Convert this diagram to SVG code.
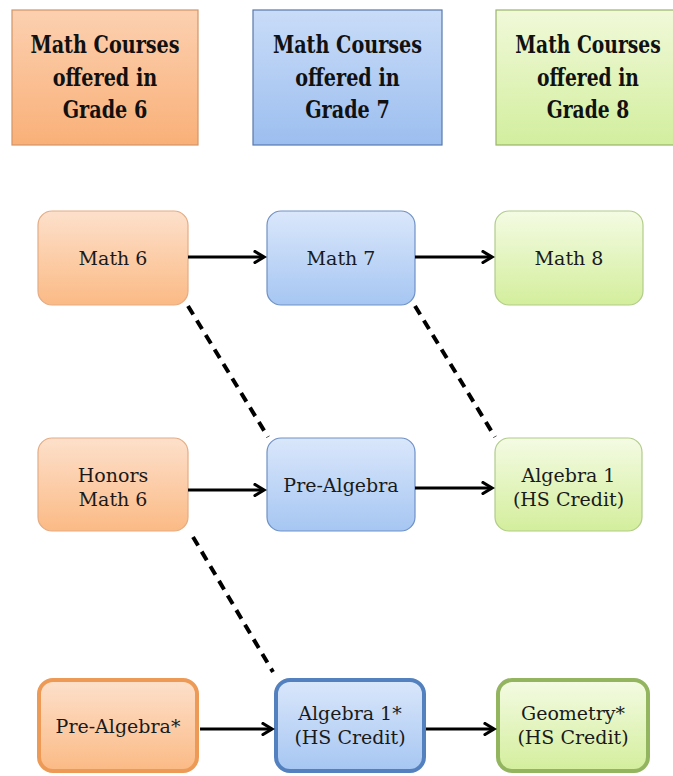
<svg xmlns="http://www.w3.org/2000/svg" width="673" height="776" viewBox="0 0 673 776">
<defs>
<linearGradient id="gO" x1="0" y1="0" x2="0" y2="1"><stop offset="0" stop-color="#fde0cb"/><stop offset="1" stop-color="#fbba85"/></linearGradient>
<linearGradient id="gB" x1="0" y1="0" x2="0" y2="1"><stop offset="0" stop-color="#dae7fb"/><stop offset="1" stop-color="#a6c6f2"/></linearGradient>
<linearGradient id="gG" x1="0" y1="0" x2="0" y2="1"><stop offset="0" stop-color="#f4fbe3"/><stop offset="1" stop-color="#d3ee9c"/></linearGradient>
<linearGradient id="hO" x1="0" y1="0" x2="0" y2="1"><stop offset="0" stop-color="#fcd0b0"/><stop offset="1" stop-color="#f9b078"/></linearGradient>
<linearGradient id="hB" x1="0" y1="0" x2="0" y2="1"><stop offset="0" stop-color="#c9dcf8"/><stop offset="1" stop-color="#9cbeef"/></linearGradient>
<linearGradient id="hG" x1="0" y1="0" x2="0" y2="1"><stop offset="0" stop-color="#f1f9d9"/><stop offset="1" stop-color="#d2ee9e"/></linearGradient>
<marker id="arr" viewBox="0 0 14 14" refX="11" refY="7" markerWidth="14" markerHeight="14" markerUnits="userSpaceOnUse" orient="auto">
<path d="M2,1.5 L11,7 L2,12.5" fill="none" stroke="#000" stroke-width="3.2" stroke-linecap="round" stroke-linejoin="miter"/>
</marker>
</defs>
<style>
.hdr{stroke-width:1.2}
.hO{fill:url(#hO);stroke:#d39466}
.hB{fill:url(#hB);stroke:#5878ad}
.hG{fill:url(#hG);stroke:#9ab569}
.ht{font-family:"DejaVu Serif","Liberation Serif",serif;font-weight:bold;font-size:24px;fill:#111;text-anchor:middle}
.nO{fill:url(#gO);stroke:#e4ac84;stroke-width:1.2}
.nB{fill:url(#gB);stroke:#6f91c6;stroke-width:1.2}
.nG{fill:url(#gG);stroke:#b1cc8a;stroke-width:1.2}
.tO{fill:url(#gO);stroke:#ec9a56;stroke-width:4}
.tB{fill:url(#gB);stroke:#5381bf;stroke-width:4}
.tG{fill:url(#gG);stroke:#93b560;stroke-width:4}
.nt{font-family:"DejaVu Serif","Liberation Serif",serif;font-size:19px;fill:#1a1a1a;text-anchor:middle}
.ar{stroke:#000;stroke-width:3;fill:none;marker-end:url(#arr)}
.ds{stroke:#000;stroke-width:4;fill:none;stroke-dasharray:10 7}
</style>
<rect width="673" height="776" fill="#fff"/>

<g id="hdr6">
<rect class="hdr hO" x="12" y="10" width="186" height="135"/>
<g transform="translate(105 0) scale(0.8 1)">
<text class="ht" x="0" y="53">Math Courses</text>
<text class="ht" x="0" y="86">offered in</text>
<text class="ht" x="0" y="118">Grade 6</text>
</g>
</g>
<g id="hdr7">
<rect class="hdr hB" x="253" y="10" width="189" height="135"/>
<g transform="translate(347.5 0) scale(0.8 1)">
<text class="ht" x="0" y="53">Math Courses</text>
<text class="ht" x="0" y="86">offered in</text>
<text class="ht" x="0" y="118">Grade 7</text>
</g>
</g>
<g id="hdr8">
<rect class="hdr hG" x="496" y="10" width="178" height="135"/>
<g transform="translate(588 0) scale(0.78 1)">
<text class="ht" x="0" y="53">Math Courses</text>
<text class="ht" x="0" y="86">offered in</text>
<text class="ht" x="0" y="118">Grade 8</text>
</g>
</g>

<g id="math6">
<rect class="nO" x="38" y="211" width="150" height="94" rx="14"/>
<text class="nt" x="113" y="265">Math 6</text>
</g>
<g id="math7">
<rect class="nB" x="267" y="211" width="148" height="94" rx="14"/>
<text class="nt" x="341" y="265">Math 7</text>
</g>
<g id="math8">
<rect class="nG" x="495" y="211" width="148" height="94" rx="14"/>
<text class="nt" x="569" y="265">Math 8</text>
</g>

<g id="honors6">
<rect class="nO" x="38" y="438" width="150" height="93" rx="14"/>
<text class="nt" x="113" y="482">Honors</text>
<text class="nt" x="113" y="506">Math 6</text>
</g>
<g id="prealg7">
<rect class="nB" x="267" y="438" width="148" height="93" rx="14"/>
<text class="nt" x="341" y="492">Pre-Algebra</text>
</g>
<g id="alg1_8">
<rect class="nG" x="495" y="438" width="147" height="93" rx="14"/>
<text class="nt" x="568.5" y="482">Algebra 1</text>
<text class="nt" x="568.5" y="506">(HS Credit)</text>
</g>

<g id="prealg6">
<rect class="tO" x="39" y="680" width="158" height="91" rx="14"/>
<text class="nt" x="118" y="733">Pre-Algebra*</text>
</g>
<g id="alg1_7">
<rect class="tB" x="276" y="680" width="148" height="91" rx="14"/>
<text class="nt" x="350" y="720">Algebra 1*</text>
<text class="nt" x="350" y="744">(HS Credit)</text>
</g>
<g id="geom8">
<rect class="tG" x="498" y="680" width="150" height="91" rx="14"/>
<text class="nt" x="573" y="720">Geometry*</text>
<text class="nt" x="573" y="744">(HS Credit)</text>
</g>

<g id="connectors">
<line class="ar" x1="188" y1="257" x2="264" y2="257"/>
<line class="ar" x1="415" y1="257" x2="492" y2="257"/>
<line class="ar" x1="188" y1="490" x2="264" y2="490"/>
<line class="ar" x1="415" y1="488" x2="492" y2="488"/>
<line class="ar" x1="200" y1="729" x2="272" y2="729"/>
<line class="ar" x1="426" y1="729" x2="494" y2="729"/>
<line class="ds" x1="188" y1="306" x2="268" y2="437"/>
<line class="ds" x1="415" y1="306" x2="495" y2="437"/>
<line class="ds" x1="193" y1="537" x2="273" y2="672"/>
</g>
</svg>
